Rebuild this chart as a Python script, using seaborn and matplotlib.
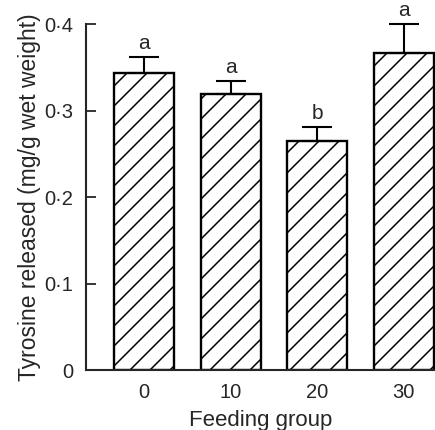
import matplotlib
matplotlib.use("Agg")
import matplotlib.pyplot as plt
import seaborn as sns
import pandas as pd
import numpy as np

groups = ["0", "10", "20", "30"]
means = [0.343, 0.319, 0.265, 0.367]
sems = [0.019, 0.015, 0.016, 0.033]
letters = ["a", "a", "b", "a"]

DPI = 60
k = 100 / DPI  # keep sizes as if at 100 dpi

sns.set_style("ticks")
plt.rcParams['font.family'] = ['Liberation Sans', 'DejaVu Sans']
plt.rcParams['hatch.linewidth'] = 1.1 * k
plt.rcParams['hatch.color'] = '#222222'

fig = plt.figure(figsize=(435 / DPI, 430 / DPI), dpi=DPI)
ax = fig.add_axes([0.198, 0.1395, 0.802, 0.8045])

df = pd.DataFrame({"group": groups, "value": means})
sns.barplot(data=df, x="group", y="value", color="white", edgecolor="black",
            linewidth=1.7 * k, width=0.69, errorbar=None, ax=ax)
for p in ax.patches:
    p.set_hatch("/")
    p.set_facecolor("white")
    p.set_edgecolor("black")

xs = np.arange(len(groups))
ax.errorbar(xs, means, yerr=[np.zeros(len(sems)), sems], fmt="none",
            ecolor="black", elinewidth=1.5 * k, capsize=10.8 * k, capthick=1.5 * k,
            clip_on=False, zorder=3)
for x, m, s, l in zip(xs, means, sems, letters):
    ax.annotate(l, (x, m + s), xytext=(0, 3 * k), textcoords="offset points",
                ha="center", va="bottom", fontsize=15 * k, annotation_clip=False)

ax.set_xlim(-0.67, 3.36)
ax.set_ylim(0, 0.4)
ax.set_yticks([0, 0.1, 0.2, 0.3, 0.4])
ax.set_yticklabels(["0", "0·1", "0·2", "0·3", "0·4"])
ax.tick_params(axis="y", direction="in", length=7 * k, width=1.3 * k,
               labelsize=14.5 * k, pad=9.5 * k)
ax.tick_params(axis="x", length=0, labelsize=14.5 * k, pad=9 * k)
ax.set_xlabel("Feeding group", fontsize=16 * k, labelpad=6 * k)
ax.set_ylabel("Tyrosine released (mg/g wet weight)", fontsize=16.5 * k, labelpad=2 * k)
for side in ["top", "right"]:
    ax.spines[side].set_visible(False)
ax.spines["left"].set_linewidth(1.5 * k)
ax.spines["bottom"].set_linewidth(1.5 * k)

fig.savefig("out.png", dpi=DPI)
